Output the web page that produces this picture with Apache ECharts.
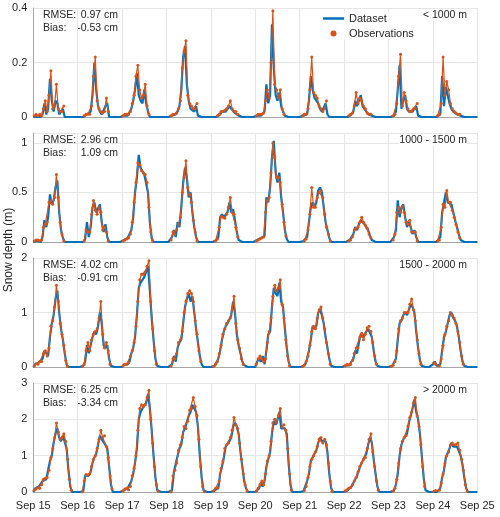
<!DOCTYPE html>
<html>
<head>
<meta charset="utf-8">
<script src="https://cdn.jsdelivr.net/npm/echarts@6/dist/echarts.min.js"></script>
<style>html,body{margin:0;padding:0;background:#fff;}#c{width:500px;height:517px;}</style>
</head>
<body>
<div id="c"></div>
<script>
// Time: semi-monthly steps (0.5 month) starting Sep 2015; observations offset by a quarter month
const tickLabels = ['Sep 15','Sep 16','Sep 17','Sep 18','Sep 19','Sep 20','Sep 21','Sep 22','Sep 23','Sep 24','Sep 25'];
const panelNames = ['< 1000 m','1000 - 1500 m','1500 - 2000 m','> 2000 m'];
const rmseText = ['0.97 cm','2.96 cm','4.02 cm','6.25 cm'];
const biasText = ['-0.53 cm','1.09 cm','-0.91 cm','-3.34 cm'];
const yMax = [0.4, 1.1, 2, 3];
const yStep = [0.2, 0.5, 1, 1];

// Dataset (m), one row per snow year (Sep..Aug), 24 half-month values
const datasetBelow1000 = [
0,0.005,0,0.005,0,0.01,0.05,0.01,0.03,0.14,0.06,0.02,0.06,0.05,0.01,0.01,0.03,0,0,0,0,0,0,0,
0,0,0,0,0.005,0.01,0.005,0.02,0.08,0.2,0.1,0.04,0.02,0.01,0.01,0.04,0.05,0,0,0,0,0,0,0,
0,0.005,0.01,0.005,0.01,0.03,0.06,0.1,0.16,0.08,0.06,0.05,0.1,0.05,0.02,0,0,0,0,0,0,0,0,0,
0,0,0,0.005,0.01,0.01,0.02,0.04,0.1,0.22,0.26,0.12,0.06,0.03,0.03,0.02,0.04,0.005,0,0,0,0,0,0,
0,0,0,0,0.005,0.01,0.02,0.015,0.02,0.03,0.04,0.03,0.03,0.015,0.01,0.005,0,0,0,0,0,0,0,0,
0,0.005,0.01,0.005,0.01,0.02,0.12,0.05,0.08,0.34,0.18,0.08,0.06,0.09,0.04,0.02,0.005,0,0,0,0,0,0,0,
0,0,0.005,0.01,0.01,0.06,0.15,0.1,0.07,0.06,0.05,0.03,0.02,0.02,0.05,0.01,0,0,0,0,0,0,0,0,
0,0,0,0.005,0.01,0.02,0.06,0.04,0.06,0.08,0.04,0.03,0.02,0.01,0.01,0.005,0,0,0,0,0,0,0,0,
0,0,0,0.005,0.02,0.1,0.19,0.03,0.06,0.08,0.03,0.02,0.015,0.02,0.02,0.04,0.005,0,0,0,0,0,0,0,
0,0,0,0.005,0.01,0.15,0.04,0.11,0.08,0.05,0.03,0.02,0.015,0.01,0.01,0.005,0,0,0,0,0,0,0,0,
0];
const dataset1000to1500 = [
0,0.02,0.01,0.03,0,0.05,0.22,0.15,0.25,0.48,0.38,0.42,0.55,0.62,0.3,0.12,0.04,0,0,0,0,0,0,0,
0,0,0,0,0.03,0.2,0.05,0.15,0.35,0.4,0.3,0.3,0.38,0.2,0.1,0.18,0.05,0,0,0,0,0,0,0,
0,0.02,0.02,0.04,0.05,0.12,0.25,0.5,0.65,0.88,0.75,0.75,0.68,0.7,0.5,0.2,0.04,0,0,0,0,0,0,0,
0,0,0,0.05,0.12,0.05,0.2,0.15,0.35,0.6,0.75,0.65,0.45,0.5,0.3,0.15,0.05,0,0,0,0,0,0,0,
0,0,0,0.02,0.05,0.25,0.28,0.25,0.27,0.3,0.4,0.3,0.33,0.22,0.1,0.02,0,0,0,0,0,0,0,0,
0,0.02,0.01,0.04,0.03,0.06,0.45,0.4,0.55,0.85,1.02,0.7,0.6,0.7,0.45,0.3,0.12,0.03,0,0,0,0,0,0,
0,0,0.01,0.02,0.05,0.2,0.35,0.4,0.35,0.4,0.52,0.55,0.5,0.35,0.2,0.12,0.04,0,0,0,0,0,0,0,
0,0,0.01,0.02,0.03,0.08,0.15,0.12,0.18,0.22,0.22,0.18,0.15,0.12,0.06,0.02,0,0,0,0,0,0,0,0,
0,0,0.01,0.05,0.12,0.42,0.25,0.35,0.38,0.25,0.15,0.2,0.15,0.08,0.12,0.05,0,0,0,0,0,0,0,0,
0,0,0,0.01,0.05,0.3,0.3,0.5,0.4,0.42,0.38,0.3,0.22,0.15,0.08,0.02,0,0,0,0,0,0,0,0,
0];
const dataset1500to2000 = [
0,0.05,0.03,0.08,0.05,0.15,0.3,0.25,0.2,0.55,0.8,0.95,1.25,1.4,1.0,0.7,0.5,0.25,0.05,0,0,0,0,0,
0,0,0,0.02,0.1,0.4,0.25,0.4,0.55,0.65,0.6,0.75,1.0,0.8,0.4,0.35,0.4,0.15,0.02,0,0,0,0,0,
0,0.05,0.03,0.05,0.1,0.25,0.35,0.55,0.95,1.45,1.55,1.6,1.65,1.75,1.85,1.4,0.9,0.5,0.15,0.02,0,0,0,0,
0,0,0,0.05,0.2,0.1,0.35,0.45,0.5,0.8,1.1,1.25,1.35,1.2,1.3,1.0,0.7,0.45,0.2,0.05,0,0,0,0,
0,0,0.02,0.08,0.15,0.3,0.5,0.65,0.75,0.8,0.8,0.95,1.2,1.0,0.6,0.4,0.25,0.1,0.03,0,0,0,0,0,
0,0.1,0.15,0.1,0.2,0.05,0.3,0.6,0.65,1.1,1.45,1.35,1.3,1.55,1.2,1.1,0.7,0.35,0.1,0,0,0,0,0,
0,0,0.02,0.05,0.15,0.3,0.5,0.75,0.7,0.75,1.0,1.05,0.95,0.8,0.55,0.35,0.15,0.02,0,0,0,0,0,0,
0,0.03,0.05,0.03,0.1,0.15,0.3,0.25,0.45,0.6,0.55,0.55,0.65,0.7,0.7,0.55,0.3,0.1,0.02,0,0,0,0,0,
0,0,0.02,0.05,0.15,0.5,0.8,0.85,0.95,1.0,0.95,1.05,1.15,1.1,1.0,0.65,0.35,0.12,0.02,0,0,0,0,0,
0.05,0.1,0.02,0,0.05,0.3,0.55,0.65,0.8,0.95,1.0,0.9,0.85,0.75,0.55,0.3,0.1,0.02,0,0,0,0,0,0,
0];
const datasetAbove2000 = [
0,0.1,0.05,0.15,0.1,0.3,0.35,0.35,0.4,0.85,1.0,1.35,1.6,1.75,1.5,1.4,1.55,1.5,1.2,0.6,0.15,0,0,0,
0,0,0,0.02,0.45,0.45,0.45,0.55,0.8,0.95,1.05,1.3,1.55,1.45,1.5,1.3,1.2,0.7,0.2,0,0,0,0,0,
0,0.05,0.05,0.1,0.05,0.3,0.5,0.8,1.2,2.0,2.2,2.3,2.25,2.45,2.7,2.3,1.7,1.0,0.4,0.05,0,0,0,0,
0,0,0,0.05,0.55,0.6,1.0,1.2,1.3,1.65,1.75,1.7,2.1,2.2,2.4,2.3,2.2,1.8,1.0,0.4,0.05,0,0,0,
0,0,0.05,0.1,0.1,0.5,0.7,0.95,1.25,1.2,1.4,1.5,1.8,1.9,1.8,1.6,1.1,0.7,0.3,0.1,0,0,0,0,
0,0.05,0.1,0.25,0.15,0.3,0.7,0.9,1.1,1.6,1.95,1.85,2.0,2.2,1.75,1.8,1.75,1.6,0.8,0.2,0,0,0,0,
0,0,0.02,0.05,0.3,0.5,0.85,0.9,1.05,1.15,1.35,1.5,1.4,1.35,1.4,1.1,0.5,0.1,0,0,0,0,0,0,
0,0.05,0.05,0.1,0.15,0.25,0.35,0.45,0.6,0.75,0.85,0.85,1.05,1.3,1.5,1.35,0.9,0.5,0.15,0,0,0,0,0,
0,0,0,0.05,0.2,0.5,1.0,1.3,1.45,1.5,1.6,1.9,2.1,2.3,2.55,2.2,2.0,1.6,1.0,0.4,0.05,0,0,0,
0,0.05,0,0,0.1,0.4,0.6,0.95,1.0,1.2,1.35,1.25,1.3,1.25,1.25,1.0,0.75,0.4,0.1,0,0,0,0,0,
0];

// Observations (m), same layout, null = no observation plotted
const obsBelow1000 = [
0.005,0.01,0.005,0.01,0.005,0.03,0.06,0.02,0.08,0.17,0.03,0.04,0.12,0.03,0.02,0.02,0.04,null,null,null,null,null,null,null,
null,null,null,0.005,0.01,0.01,0.01,0.04,0.15,0.22,0.06,0.03,0.02,0.015,0.02,0.07,0.02,null,null,null,null,null,null,null,
0.005,0.01,0.01,0.01,0.02,0.05,0.08,0.15,0.19,0.1,0.07,0.08,0.12,0.04,0.01,null,null,null,null,null,null,null,null,null,
null,null,0.005,0.01,0.01,0.015,0.03,0.06,0.18,0.24,0.28,0.08,0.05,0.04,0.03,0.03,0.05,null,null,null,null,null,null,null,
null,null,null,0.005,0.01,0.02,0.02,0.025,0.03,0.04,0.06,0.03,0.02,0.02,0.01,null,null,null,null,null,null,null,null,null,
0.005,0.01,0.01,0.01,0.015,0.06,0.1,0.07,0.2,0.39,0.12,0.1,0.07,0.1,0.03,0.01,null,null,null,null,null,null,null,null,
null,0.005,0.01,0.01,0.03,0.1,0.22,0.09,0.08,0.07,0.04,0.03,0.02,0.03,0.06,null,null,null,null,null,null,null,null,null,
null,null,0.005,0.01,0.015,0.04,0.09,0.05,0.07,0.06,0.04,0.03,0.015,0.01,0.01,null,null,null,null,null,null,null,null,null,
null,null,0.005,0.01,0.05,0.15,0.23,0.04,0.09,0.06,0.03,0.02,0.02,0.03,0.03,0.05,null,null,null,null,null,null,null,null,
null,null,0.005,0.01,0.05,0.22,0.08,0.13,0.1,0.05,0.03,0.02,0.015,0.01,0.01,null,null,null,null,null,null,null,null,null];
const obs1000to1500 = [
0.01,0.02,0.02,0.01,0.02,0.15,0.18,0.2,0.4,0.42,0.38,0.45,0.68,0.45,0.2,0.08,0.01,null,null,null,null,null,null,null,
null,null,null,0.01,0.12,0.1,0.1,0.28,0.42,0.32,0.28,0.35,0.3,0.12,0.15,0.1,0.01,null,null,null,null,null,null,null,
0.01,0.02,0.03,0.04,0.08,0.2,0.4,0.6,0.8,0.78,0.72,0.7,0.68,0.6,0.35,0.1,0.01,null,null,null,null,null,null,null,
null,null,0.02,0.1,0.08,0.12,0.18,0.25,0.5,0.65,0.82,0.55,0.48,0.4,0.22,0.1,0.01,null,null,null,null,null,null,null,
null,null,0.01,0.03,0.15,0.26,0.25,0.24,0.28,0.35,0.45,0.3,0.28,0.15,0.05,null,null,null,null,null,null,null,null,null,
0.01,0.02,0.03,0.04,0.05,0.3,0.42,0.45,0.7,1.0,0.85,0.65,0.65,0.6,0.38,0.2,0.06,null,null,null,null,null,null,null,
null,null,0.01,0.03,0.12,0.28,0.55,0.35,0.35,0.45,0.5,0.52,0.45,0.28,0.15,0.08,0.01,null,null,null,null,null,null,null,
null,null,0.01,0.02,0.05,0.12,0.14,0.15,0.2,0.25,0.2,0.17,0.14,0.08,0.04,null,null,null,null,null,null,null,null,null,
null,null,0.02,0.08,0.3,0.35,0.3,0.36,0.3,0.2,0.18,0.22,0.1,0.1,0.1,0.01,null,null,null,null,null,null,null,null,
null,null,0.01,0.02,0.15,0.38,0.35,0.52,0.4,0.4,0.32,0.25,0.18,0.1,0.04,null,null,null,null,null,null,null,null,null];
const obs1500to2000 = [
0.02,0.06,0.05,0.1,0.1,0.25,0.3,0.2,0.35,0.75,0.85,1.1,1.5,1.2,0.8,0.6,0.4,0.12,0.01,null,null,null,null,null,
null,null,0.01,0.05,0.3,0.45,0.3,0.5,0.6,0.65,0.7,0.9,1.2,0.6,0.35,0.45,0.3,0.05,null,null,null,null,null,null,
0.02,0.05,0.05,0.08,0.2,0.3,0.45,0.75,1.2,1.6,1.7,1.7,1.75,1.85,1.95,1.2,0.7,0.3,0.05,null,null,null,null,null,
null,null,0.02,0.15,0.15,0.25,0.45,0.5,0.65,1.0,1.2,1.35,1.4,1.35,1.2,0.85,0.6,0.3,0.1,null,null,null,null,null,
null,0.01,0.05,0.1,0.25,0.4,0.6,0.7,0.8,0.85,0.9,1.05,1.3,0.8,0.5,0.35,0.15,0.05,null,null,null,null,null,null,
0.05,0.15,0.2,0.15,0.1,0.15,0.45,0.65,0.9,1.3,1.5,1.4,1.45,1.6,1.15,0.9,0.5,0.2,0.02,null,null,null,null,null,
null,0.01,0.03,0.1,0.2,0.4,0.65,0.75,0.7,0.9,1.05,1.1,0.9,0.7,0.45,0.25,0.05,null,null,null,null,null,null,null,
0.02,0.05,0.04,0.05,0.12,0.25,0.35,0.35,0.55,0.62,0.5,0.6,0.72,0.75,0.65,0.45,0.2,0.05,null,null,null,null,null,null,
null,0.01,0.03,0.1,0.3,0.7,0.85,0.9,1.0,1.0,1.0,1.15,1.25,1.05,0.85,0.5,0.25,0.05,null,null,null,null,null,null,
0.08,0.05,null,0.02,0.15,0.4,0.6,0.75,0.85,1.0,0.95,0.9,0.8,0.65,0.45,0.2,0.05,null,null,null,null,null,null,null];
const obsAbove2000 = [
0.05,0.08,0.12,0.1,0.2,0.35,0.38,0.4,0.6,0.95,1.2,1.5,1.9,1.65,1.45,1.5,1.6,1.4,0.9,0.35,0.05,null,null,null,
null,null,0.01,0.3,0.48,0.47,0.5,0.7,0.9,1.0,1.2,1.45,1.7,1.5,1.55,1.25,0.95,0.45,0.08,null,null,null,null,null,
0.03,0.08,0.1,0.06,0.15,0.45,0.65,1.0,1.7,2.3,2.4,2.35,2.4,2.6,2.8,2.0,1.35,0.7,0.2,0.02,null,null,null,null,
null,null,0.01,0.45,0.6,0.8,1.15,1.3,1.5,1.8,1.75,1.95,2.25,2.3,2.6,2.35,2.1,1.45,0.7,0.15,0.01,null,null,null,
null,0.03,0.1,0.12,0.3,0.65,0.85,1.2,1.3,1.35,1.5,1.7,2.05,1.85,1.75,1.35,0.9,0.5,0.2,0.03,null,null,null,null,
0.02,0.1,0.2,0.3,0.2,0.5,0.85,1.0,1.4,1.9,2.0,1.9,2.1,2.3,1.8,1.85,1.7,1.2,0.5,0.05,null,null,null,null,
null,null,0.04,0.15,0.4,0.7,0.9,1.0,1.1,1.25,1.45,1.5,1.35,1.45,1.3,0.8,0.3,0.02,null,null,null,null,null,null,
0.03,0.06,0.1,0.12,0.2,0.3,0.4,0.55,0.7,0.8,0.9,0.95,1.2,1.45,1.6,1.1,0.7,0.3,0.05,null,null,null,null,null,
null,null,0.02,0.1,0.35,0.8,1.2,1.4,1.5,1.55,1.8,2.05,2.2,2.45,2.6,2.1,1.8,1.3,0.7,0.15,null,null,null,null,
0.02,0.04,null,0.05,0.25,0.5,0.8,1.0,1.1,1.3,1.35,1.3,1.3,1.35,1.15,0.9,0.6,0.2,0.03,null,null,null,null,null];

const datasets = [datasetBelow1000, dataset1000to1500, dataset1500to2000, datasetAbove2000];
const observations = [obsBelow1000, obs1000to1500, obs1500to2000, obsAbove2000];

const BLUE = '#0072BD', ORANGE = '#D95319', TXT = '#262626';
const FONT = '"Liberation Sans", Arial, Helvetica, sans-serif';
const tops = [8, 133, 258, 383], H = 109, L = 33.3, R = 22.7;

const grid = [], xAxis = [], yAxis = [], series = [], graphic = [];
for (let p = 0; p < 4; p++) {
  grid.push({left: L, right: R, top: tops[p], height: H});
  xAxis.push({
    type: 'value', gridIndex: p, min: 0, max: 120, interval: 12,
    axisLine: {show: true, onZero: false, lineStyle: {color: '#a6a6a6', width: 1}},
    axisTick: {show: false},
    axisLabel: {show: p === 3, margin: 8, color: TXT, fontSize: 11, fontFamily: FONT,
      formatter: v => tickLabels[Math.round(v / 12)] || ''},
    splitLine: {show: true, lineStyle: {color: '#e6e6e6', width: 1}}
  });
  const st = yStep[p];
  yAxis.push({
    type: 'value', gridIndex: p, min: 0, max: yMax[p], interval: st,
    axisLine: {show: true, lineStyle: {color: '#a6a6a6', width: 1}},
    axisTick: {show: false},
    axisLabel: {margin: 6, color: TXT, fontSize: 11, fontFamily: FONT,
      formatter: v => Math.abs(v / st - Math.round(v / st)) < 1e-6 ? String(+v.toFixed(2)) : ''},
    splitLine: {show: true, lineStyle: {color: '#e6e6e6', width: 1}}
  });
  series.push({
    name: 'Dataset', type: 'line', xAxisIndex: p, yAxisIndex: p,
    data: datasets[p].map((v, i) => [i * 0.5, v]),
    showSymbol: false, symbol: 'none', lineStyle: {color: BLUE, width: 2.2}, itemStyle: {color: BLUE},
    z: 2, silent: true
  });
  series.push({
    name: 'Observations', type: 'line', xAxisIndex: p, yAxisIndex: p,
    data: observations[p].map((v, i) => [i * 0.5 + 0.25, v]),
    connectNulls: false, showSymbol: true, showAllSymbol: true,
    symbol: 'circle', symbolSize: 3,
    lineStyle: {color: ORANGE, width: 1.2}, itemStyle: {color: ORANGE, borderWidth: 0},
    z: 3, silent: true
  });
  const t = tops[p];
  const f = '10.5px ' + FONT;
  graphic.push({type: 'text', x: 43, y: t + 7, style: {text: 'RMSE:', fill: TXT, font: f, textVerticalAlign: 'middle'}});
  graphic.push({type: 'text', x: 43, y: t + 20, style: {text: 'Bias:', fill: TXT, font: f, textVerticalAlign: 'middle'}});
  graphic.push({type: 'text', x: 118, y: t + 7, style: {text: rmseText[p], fill: TXT, font: f, textAlign: 'right', textVerticalAlign: 'middle'}});
  graphic.push({type: 'text', x: 118, y: t + 20, style: {text: biasText[p], fill: TXT, font: f, textAlign: 'right', textVerticalAlign: 'middle'}});
  graphic.push({type: 'text', x: 467, y: t + 7, z: 10, style: {text: panelNames[p], fill: TXT, font: f, textAlign: 'right', textVerticalAlign: 'middle', backgroundColor: '#fff'}});
}
graphic.push({type: 'text', x: 9, y: 250, rotation: Math.PI / 2,
  style: {text: 'Snow depth (m)', fill: TXT, font: '12px ' + FONT, textAlign: 'center', textVerticalAlign: 'middle'}});

const chart = echarts.init(document.getElementById('c'), null, {renderer: 'canvas'});
chart.setOption({
  animation: false,
  backgroundColor: '#fff',
  textStyle: {fontFamily: FONT},
  grid, xAxis, yAxis, series, graphic,
  legend: {
    orient: 'vertical', left: 321, top: 13, itemGap: 4, itemWidth: 21, itemHeight: 6,
    padding: [0, 2, 0, 2], backgroundColor: '#fff',
    textStyle: {color: TXT, fontSize: 11, fontFamily: FONT},
    selectedMode: false,
    data: [
      {name: 'Dataset', icon: 'path://M0,0H20V2.4H0Z', itemStyle: {color: BLUE}},
      {name: 'Observations', icon: 'circle', itemStyle: {color: ORANGE}}
    ]
  }
});
</script>
</body>
</html>
